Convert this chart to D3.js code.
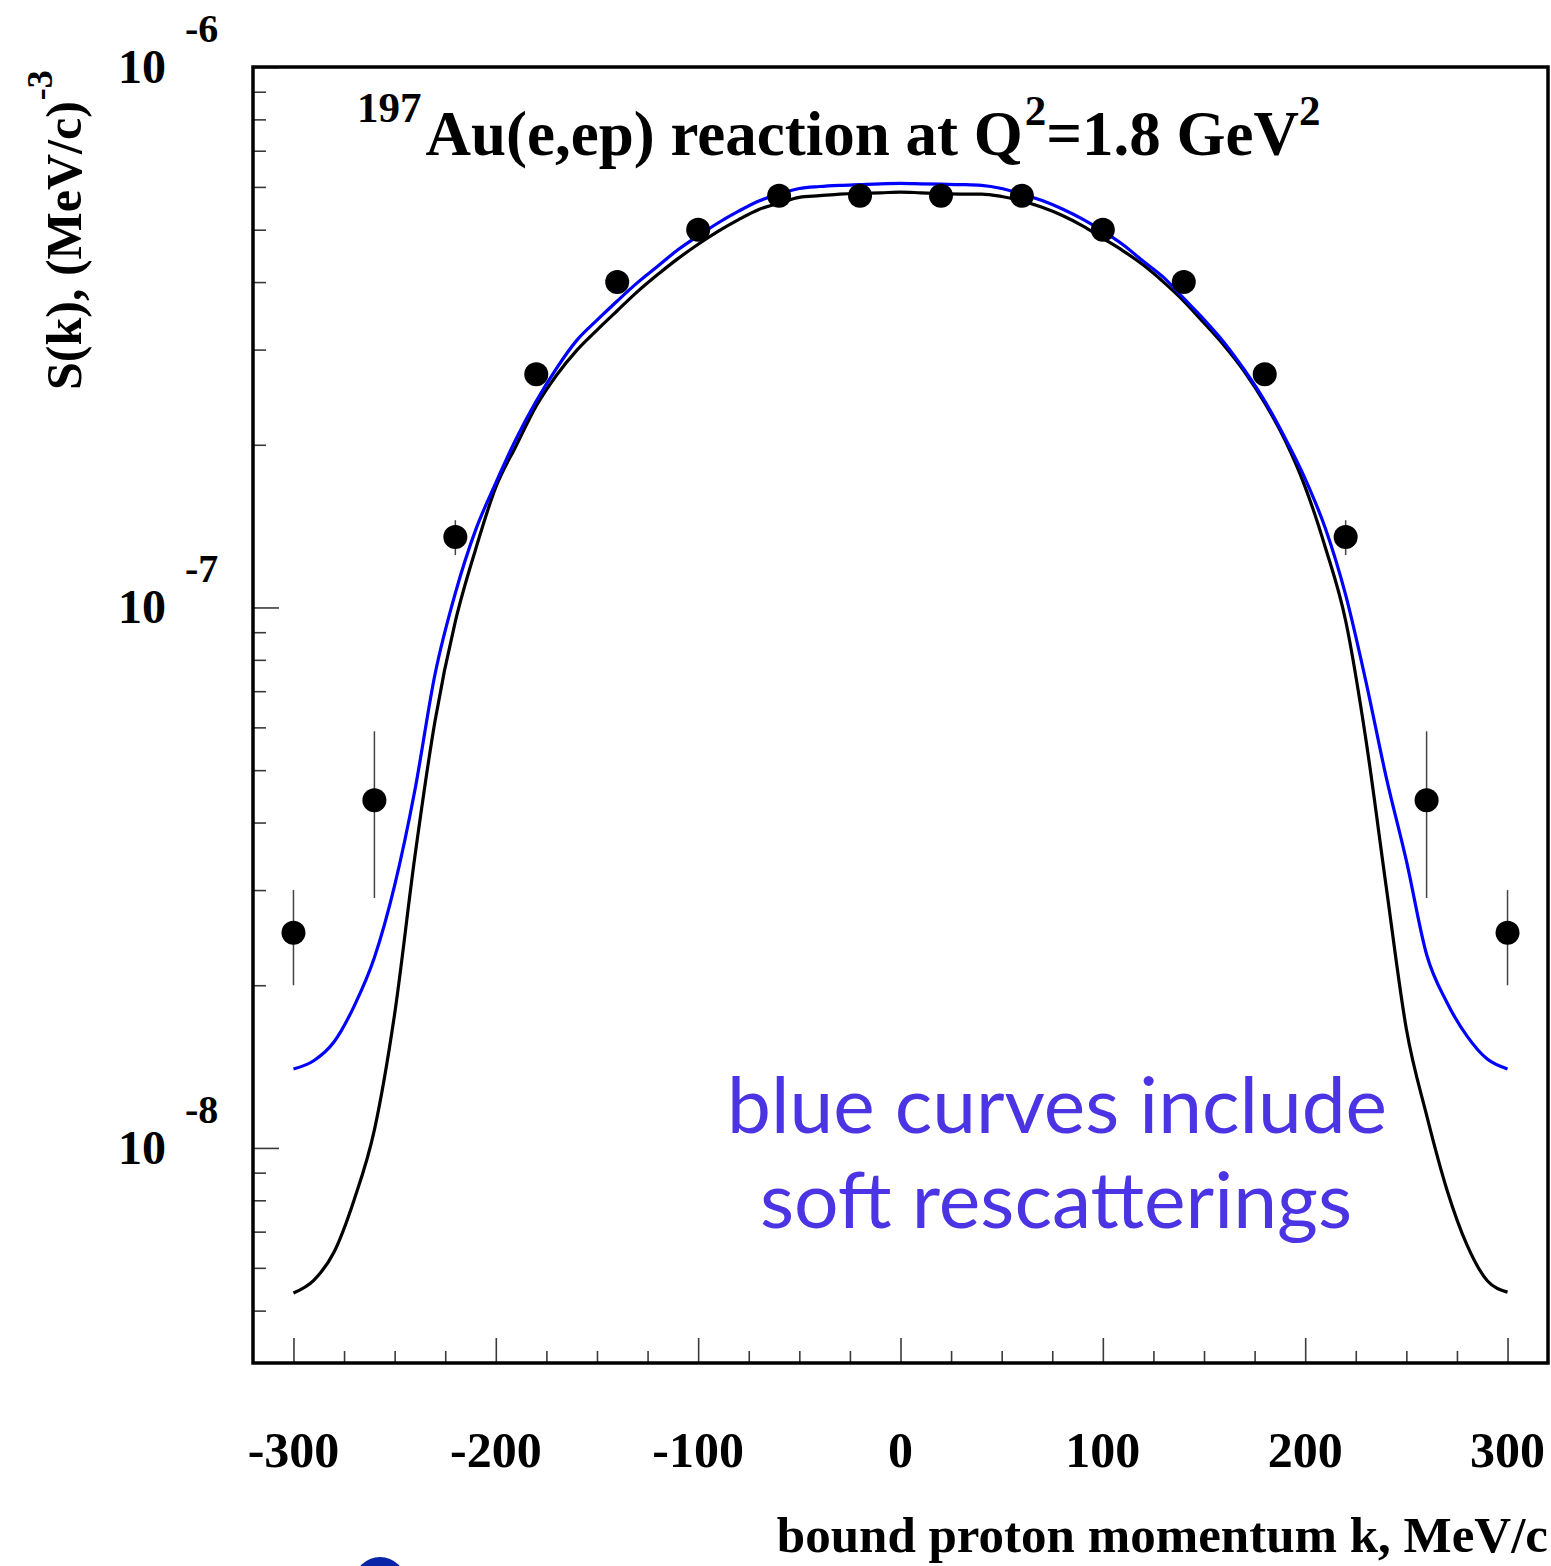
<!DOCTYPE html>
<html>
<head>
<meta charset="utf-8">
<script src="https://cdn.jsdelivr.net/npm/d3@7"></script>
<style>
  html, body { margin: 0; padding: 0; background: #fff; }
  svg { display: block; }
  .serif { font-family: "Liberation Serif", "Times New Roman", serif; font-weight: bold; }
</style>
</head>
<body>
<svg id="chart"></svg>
<script>
// momentum grid for the two model curves, MeV/c
const kGrid = [-300, -290, -280, -270, -260, -250, -240, -230, -220, -210, -200,
  -190, -180, -170, -160, -150, -140, -130, -120, -110, -100,
  -90, -80, -70, -60, -50, -40, -30, -20, -10, 0,
  10, 20, 30, 40, 50, 60, 70, 80, 90, 100,
  110, 120, 130, 140, 150, 160, 170, 180, 190, 200,
  210, 220, 230, 240, 250, 260, 270, 280, 290, 300];

// plane wave impulse approximation (black)
const pwiaCurve = [5.39e-9, 5.69e-9, 6.41e-9, 8.02e-9, 1.08e-8, 1.77e-8, 3.46e-8, 6.18e-8, 9.42e-8, 1.28e-7, 1.67e-7,
  1.99e-7, 2.36e-7, 2.69e-7, 2.99e-7, 3.26e-7, 3.54e-7, 3.84e-7, 4.13e-7, 4.42e-7, 4.70e-7,
  4.97e-7, 5.22e-7, 5.45e-7, 5.60e-7, 5.74e-7, 5.78e-7, 5.82e-7, 5.84e-7, 5.85e-7, 5.87e-7,
  5.85e-7, 5.83e-7, 5.82e-7, 5.82e-7, 5.76e-7, 5.65e-7, 5.50e-7, 5.31e-7, 5.08e-7, 4.82e-7,
  4.57e-7, 4.30e-7, 4.00e-7, 3.69e-7, 3.36e-7, 3.05e-7, 2.73e-7, 2.39e-7, 2.04e-7, 1.67e-7,
  1.29e-7, 9.45e-8, 5.70e-8, 3.05e-8, 1.66e-8, 1.15e-8, 8.38e-9, 6.61e-9, 5.68e-9, 5.41e-9];

// with soft rescatterings (blue)
const softCurve = [1.40e-8, 1.45e-8, 1.57e-8, 1.83e-8, 2.25e-8, 3.06e-8, 4.59e-8, 7.54e-8, 1.063e-7, 1.39e-7, 1.70e-7,
  2.05e-7, 2.41e-7, 2.77e-7, 3.12e-7, 3.40e-7, 3.69e-7, 3.99e-7, 4.28e-7, 4.59e-7, 4.87e-7,
  5.15e-7, 5.41e-7, 5.65e-7, 5.82e-7, 5.96e-7, 6.01e-7, 6.04e-7, 6.06e-7, 6.08e-7, 6.09e-7,
  6.08e-7, 6.07e-7, 6.06e-7, 6.04e-7, 5.96e-7, 5.82e-7, 5.66e-7, 5.46e-7, 5.23e-7, 4.97e-7,
  4.69e-7, 4.37e-7, 4.08e-7, 3.73e-7, 3.41e-7, 3.09e-7, 2.75e-7, 2.41e-7, 2.06e-7, 1.73e-7,
  1.40e-7, 1.055e-7, 7.30e-8, 4.86e-8, 3.40e-8, 2.28e-8, 1.86e-8, 1.61e-8, 1.46e-8, 1.40e-8];

// measured points with errors
const dataK = [-300, -260, -220, -180, -140, -100, -60, -20, 20, 60, 100, 140, 180, 220, 260, 300];
const dataS = [2.5e-8, 4.4e-8, 1.35e-7, 2.7e-7, 4.0e-7, 5.0e-7, 5.78e-7, 5.78e-7,
  5.78e-7, 5.78e-7, 5.0e-7, 4.0e-7, 2.7e-7, 1.35e-7, 4.4e-8, 2.5e-8];
const dataErr = [0.5e-8, 1.5e-8, 0.1e-7, 0.08e-7, 0.08e-7, 0.08e-7, 0.08e-7, 0.08e-7,
  0.08e-7, 0.08e-7, 0.08e-7, 0.08e-7, 0.08e-7, 0.1e-7, 1.5e-8, 0.5e-8];

// axis ticks
const xMajor = [-300, -200, -100, 0, 100, 200, 300];
const xLabels = ["-300", "-200", "-100", "0", "100", "200", "300"];
const xMinor = [-275, -250, -225, -175, -150, -125, -75, -50, -25, 25, 50, 75, 125, 150, 175, 225, 250, 275];
const yMajor = [1e-6, 1e-7, 1e-8];
const yExponents = ["-6", "-7", "-8"];
const yMinor = [2e-7, 3e-7, 4e-7, 5e-7, 6e-7, 7e-7, 8e-7, 9e-7,
  2e-8, 3e-8, 4e-8, 5e-8, 6e-8, 7e-8, 8e-8, 9e-8,
  5e-9, 6e-9, 7e-9, 8e-9, 9e-9];

const width = 1551, height = 1566;
const svg = d3.select("#chart").attr("width", width).attr("height", height);

const frame = { left: 253, right: 1548, top: 67, bottom: 1363 };
const x = d3.scaleLinear().domain([-320, 320]).range([frame.left, frame.right]);
const y = d3.scaleLog().domain([4e-9, 1e-6]).range([frame.bottom, frame.top]);

// ticks (inside the frame)
const tickColor = "#3a3a3a";
function addXTicks(values, size) {
  svg.append("g")
    .attr("transform", `translate(0,${frame.bottom})`)
    .call(d3.axisBottom(x).tickValues(values).tickSize(-size).tickFormat(""))
    .call(g => g.select(".domain").remove())
    .call(g => g.selectAll("line").attr("stroke", tickColor).attr("stroke-width", 1.6));
}
function addYTicks(values, size) {
  svg.append("g")
    .attr("transform", `translate(${frame.left},0)`)
    .call(d3.axisLeft(y).tickValues(values).tickSize(-size).tickFormat(""))
    .call(g => g.select(".domain").remove())
    .call(g => g.selectAll("line").attr("stroke", tickColor).attr("stroke-width", 1.6));
}
addXTicks(xMajor, 25);
addXTicks(xMinor, 12);
addYTicks(yMajor, 26);
addYTicks(yMinor, 13);

// curves
const curveData = series => kGrid.map((k, i) => ({ k, s: series[i] }));
const line = d3.line().curve(d3.curveMonotoneX).x(d => x(d.k)).y(d => y(d.s));

svg.append("path")
  .datum(curveData(pwiaCurve))
  .attr("fill", "none")
  .attr("stroke", "#000")
  .attr("stroke-width", 3.2)
  .attr("stroke-linejoin", "round")
  .attr("d", line);

svg.append("path")
  .datum(curveData(softCurve))
  .attr("fill", "none")
  .attr("stroke", "#0000ff")
  .attr("stroke-width", 3.2)
  .attr("stroke-linejoin", "round")
  .attr("d", line);

// data points with error bars
const points = dataK.map((k, i) => ({ k, s: dataS[i], e: dataErr[i] }));
svg.append("g").selectAll("line")
  .data(points)
  .join("line")
  .attr("x1", d => x(d.k)).attr("x2", d => x(d.k))
  .attr("y1", d => y(d.s + d.e)).attr("y2", d => y(d.s - d.e))
  .attr("stroke", "#444")
  .attr("stroke-width", 1.5);

svg.append("g").selectAll("circle")
  .data(points)
  .join("circle")
  .attr("cx", d => x(d.k))
  .attr("cy", d => y(d.s))
  .attr("r", 12)
  .attr("fill", "#000");

// frame
svg.append("rect")
  .attr("x", frame.left).attr("y", frame.top)
  .attr("width", frame.right - frame.left)
  .attr("height", frame.bottom - frame.top)
  .attr("fill", "none")
  .attr("stroke", "#000")
  .attr("stroke-width", 3.5);

// x tick labels
svg.append("g").selectAll("text")
  .data(xMajor)
  .join("text")
  .attr("class", "serif")
  .attr("x", d => x(d))
  .attr("y", 1467)
  .attr("text-anchor", "middle")
  .attr("font-size", 50)
  .text((d, i) => xLabels[i]);

// y tick labels as 10^n
const yLab = svg.append("g");
yMajor.forEach((v, i) => {
  yLab.append("text")
    .attr("class", "serif")
    .attr("x", 166)
    .attr("y", y(v) + 16)
    .attr("text-anchor", "end")
    .attr("font-size", 48)
    .text("10");
  yLab.append("text")
    .attr("class", "serif")
    .attr("x", 185)
    .attr("y", y(v) - 25)
    .attr("font-size", 40)
    .text(yExponents[i]);
});

// axis titles
svg.append("text")
  .attr("class", "serif")
  .attr("x", 1548)
  .attr("y", 1552)
  .attr("text-anchor", "end")
  .attr("font-size", 51)
  .text("bound proton momentum k, MeV/c");

const yTitle = svg.append("text")
  .attr("class", "serif")
  .attr("transform", "translate(81,390) rotate(-90)");
yTitle.append("tspan").attr("font-size", 50).text("S(k), (MeV/c)");
yTitle.append("tspan").attr("font-size", 36).attr("dy", -29).attr("dx", 1).text("-3");

// plot title
const title = svg.append("text")
  .attr("class", "serif")
  .attr("x", 357)
  .attr("y", 155);
title.append("tspan").attr("font-size", 43).attr("dy", -33).text("197");
title.append("tspan").attr("font-size", 63).attr("dy", 33).attr("dx", 4).text("Au(e,ep) reaction at Q");
title.append("tspan").attr("font-size", 43).attr("dy", -30).attr("dx", 2).text("2");
title.append("tspan").attr("font-size", 63).attr("dy", 30).text("=1.8 GeV");
title.append("tspan").attr("font-size", 43).attr("dy", -30).text("2");

// annotation
const note = svg.append("g")
  .attr("font-family", "Lato, 'Open Sans', sans-serif")
  .attr("fill", "#4a34e4")
  .attr("font-size", 78);
note.append("text")
  .attr("x", 727).attr("y", 1133)
  .attr("textLength", 660).attr("lengthAdjust", "spacingAndGlyphs")
  .text("blue curves include");
note.append("text")
  .attr("x", 760).attr("y", 1228)
  .attr("textLength", 592).attr("lengthAdjust", "spacingAndGlyphs")
  .text("soft rescatterings");

// bullet mark at the lower edge
svg.append("circle")
  .attr("cx", 380).attr("cy", 1583).attr("r", 26)
  .attr("fill", "#0a24a8");
</script>
</body>
</html>
